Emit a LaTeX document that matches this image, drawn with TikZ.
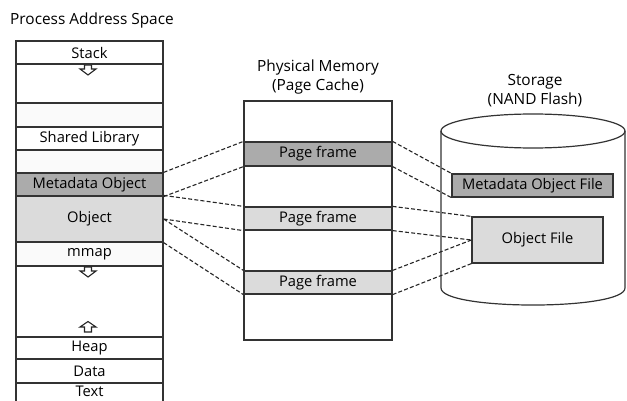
\documentclass[tikz,border=0pt]{standalone}
\usepackage{fontspec}
\setmainfont{Open Sans}
\begin{document}
\begin{tikzpicture}[x=1pt,y=-1pt,
  box/.style={draw=black!80,line width=1.2pt,inner sep=0pt,minimum width=147pt,font=\fontsize{14.7}{17}\selectfont},
  pbox/.style={draw=black!80,line width=1.2pt,inner sep=0pt,minimum width=148pt,font=\fontsize{14.7}{17}\selectfont},
  sbox/.style={draw=black!80,line width=1.2pt,inner sep=0pt,font=\fontsize{14.7}{17}\selectfont},
  lbl/.style={inner sep=0pt,font=\fontsize{14.7}{17}\selectfont},
  dark/.style={fill=black!33},
  light/.style={fill=black!14},
  faint/.style={fill=black!2},
  conn/.style={draw=black!85,line width=1.1pt,dash pattern=on 4pt off 2.2pt},
  title/.style={font=\fontsize{15.4}{19}\selectfont,align=center,inner sep=0pt},
  harrow/.style={draw=black!85,line width=1.1pt,fill=white,line join=miter}
]
\useasboundingbox (0,0) rectangle (627,401);
\fill[white] (0,0) rectangle (627,401);

% titles
\node[title] (tpas) at (92,21) {Process Address Space};
\node[title] (tpm) at (318,77) {Physical Memory\\(Page Cache)};
\node[title] (tst) at (535,91) {Storage\\(NAND Flash)};

% process address space column
\node[box,minimum height=23pt] (stack) at (89.5,52.5) {Stack};
\node[box,minimum height=39pt] (blank1) at (89.5,83.5) {};
\node[box,faint,minimum height=24pt] (tex1) at (89.5,115) {};
\node[box,minimum height=23pt] (shlib) at (89.5,138.5) {Shared Library};
\node[box,faint,minimum height=23pt] (tex2) at (89.5,161.5) {};
\node[box,dark,minimum height=23pt] (meta) at (89.5,184.5) {Metadata Object};
\node[box,light,minimum height=46pt] (obj) at (89.5,219) {Object};
\node[box,faint,minimum height=24pt] (mmap) at (89.5,254) {mmap};
\node[box,minimum height=71pt] (blank2) at (89.5,301.5) {};
\node[box,minimum height=22pt] (heap) at (89.5,348) {Heap};
\node[box,minimum height=24pt] (data) at (89.5,371) {Data};
\node[box,minimum height=22pt] (text) at (89.5,394) {};
\node[lbl] (textlbl) at (89.5,391) {Text};

% hollow arrows
\draw[harrow] (84.5,65) -- (91.5,65) -- (91.5,69) -- (96,69) -- (88,75) -- (80,69) -- (84.5,69) -- cycle;
\draw[harrow] (84.5,267) -- (91.5,267) -- (91.5,271) -- (96,271) -- (88,277) -- (80,271) -- (84.5,271) -- cycle;
\draw[harrow] (84.5,332) -- (91.5,332) -- (91.5,327) -- (96,327) -- (88,321.5) -- (80,327) -- (84.5,327) -- cycle;

% physical memory
\node[pbox,minimum height=239pt] (pm) at (318,220.5) {};
\node[pbox,dark,minimum height=24pt] (pf1) at (318,154) {Page frame};
\node[pbox,light,minimum height=23pt] (pf2) at (318,218.5) {Page frame};
\node[pbox,light,minimum height=23pt] (pf3) at (318,282.5) {Page frame};

% storage cylinder
\coordinate (cyl) at (533,131);
\draw[draw=black!80,line width=1.2pt] (cyl) ellipse [x radius=92pt,y radius=17pt];
\draw[draw=black!80,line width=1.2pt] (441,131) -- (441,288) .. controls (441,310.7) and (625,310.7) .. (625,288) -- (625,131);

\node[sbox,dark,minimum width=161pt,minimum height=23pt] (mof) at (532.5,185.5) {Metadata Object File};
\node[sbox,light,minimum width=131pt,minimum height=46pt] (of) at (537.5,240) {Object File};

% connectors left
\draw[conn] (meta.north east) -- (pf1.north west);
\draw[conn] (meta.south east) -- (pf1.south west);
\draw[conn] (obj.north east) -- (pf2.north west);
\draw[conn] (obj.east) -- (pf2.south west);
\draw[conn] (obj.east) -- (pf3.north west);
\draw[conn] (obj.south east) -- (pf3.south west);
% connectors right
\draw[conn] (pf1.north east) -- (mof.north west);
\draw[conn] (pf1.south east) -- (mof.south west);
\draw[conn] (pf2.north east) -- (of.north west);
\draw[conn] (pf2.south east) -- (of.west);
\draw[conn] (pf3.north east) -- (of.west);
\draw[conn] (pf3.south east) -- (of.south west);
\end{tikzpicture}
\end{document}
